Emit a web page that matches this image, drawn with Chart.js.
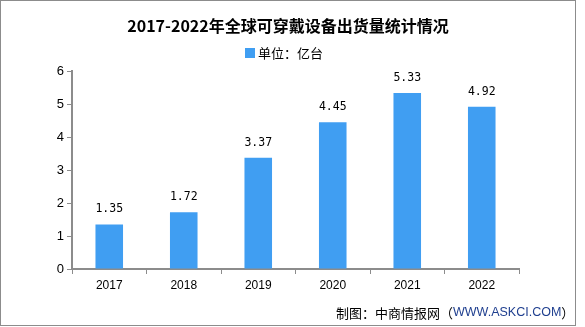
<!DOCTYPE html>
<html>
<head>
<meta charset="utf-8">
<script src="https://cdn.jsdelivr.net/npm/chart.js@4"></script>
<style>
  html, body { margin: 0; padding: 0; background: #fff; }
  #wrap { width: 585px; height: 327px; position: relative; }
</style>
</head>
<body>
<div id="wrap"><canvas id="chart"></canvas></div>
<script>
const years = ["2017", "2018", "2019", "2020", "2021", "2022"];
const shipments = [1.35, 1.72, 3.37, 4.45, 5.33, 4.92];
const yTicks = [0, 1, 2, 3, 4, 5, 6];

const titleText = "2017-2022年全球可穿戴设备出货量统计情况";
const unitText = "单位：亿台";
const barColor = "#409ef2";
const axisColor = "#8c8c8c";

const decorPlugin = {
    id: "decor",
    afterDraw(chart) {
        const ctx = chart.ctx;
        ctx.save();
        // frame
        ctx.strokeStyle = "#8c8c8c";
        ctx.lineWidth = 1;
        ctx.strokeRect(0.5, 0.5, 575, 325);

        // title
        ctx.fillStyle = "#000";
        ctx.font = "bold 16px 'Noto Sans CJK SC'";
        ctx.textAlign = "center";
        ctx.textBaseline = "middle";
        ctx.fillText(titleText, 288, 26);

        // legend
        ctx.font = "13px 'Noto Sans CJK SC'";
        ctx.textAlign = "left";
        ctx.fillStyle = barColor;
        ctx.fillRect(245, 48, 10, 10);
        ctx.fillStyle = "#000";
        ctx.fillText(unitText, 258, 53);

        // value labels
        const meta = chart.getDatasetMeta(0);
        ctx.font = "11.5px 'DejaVu Sans Mono'";
        ctx.textAlign = "center";
        meta.data.forEach((bar, i) => {
            ctx.fillText(shipments[i].toFixed(2), bar.x, bar.y - 15);
        });

        // source
        ctx.textAlign = "left";
        ctx.font = "13px 'Noto Sans CJK SC'";
        const part1 = "制图：中商情报网（";
        const part2 = "WWW.ASKCI.COM";
        const part3 = "）";
        let x = 336;
        ctx.fillStyle = "#000";
        ctx.fillText(part1, x, 313);
        x += ctx.measureText(part1).width;
        ctx.font = "12.5px 'Liberation Sans'";
        ctx.fillStyle = "#1f3f8f";
        ctx.fillText(part2, x, 313);
        x += ctx.measureText(part2).width;
        ctx.font = "13px 'Noto Sans CJK SC'";
        ctx.fillStyle = "#000";
        ctx.fillText(part3, x, 313);
        ctx.restore();
    }
};

new Chart(document.getElementById("chart"), {
    type: "bar",
    data: {
        labels: years,
        datasets: [{
            label: unitText,
            data: shipments,
            backgroundColor: barColor,
            barPercentage: 0.37,
            categoryPercentage: 1
        }]
    },
    options: {
        responsive: true,
        maintainAspectRatio: false,
        animation: false,
        layout: { padding: { left: 0, top: 71, right: 66, bottom: 28 } },
        plugins: { legend: { display: false }, title: { display: false }, tooltip: { enabled: false } },
        scales: {
            x: {
                afterFit(scale) { scale.height = 30; },
                grid: { display: true, drawOnChartArea: false, drawTicks: true, tickLength: 5, color: axisColor, offset: true },
                border: { color: axisColor, width: 2 },
                ticks: { color: "#000", font: { family: "'Liberation Sans'", size: 12 }, padding: 4 }
            },
            y: {
                min: 0,
                max: 6,
                afterFit(scale) { scale.width = 72; },
                afterBuildTicks(scale) { scale.ticks = yTicks.map((v) => ({ value: v })); },
                grid: { display: true, drawOnChartArea: false, drawTicks: true, tickLength: 5, color: axisColor },
                border: { color: axisColor, width: 2 },
                ticks: { color: "#000", font: { family: "'Liberation Sans'", size: 13 }, padding: 3 }
            }
        }
    },
    plugins: [decorPlugin]
});
</script>
</body>
</html>
